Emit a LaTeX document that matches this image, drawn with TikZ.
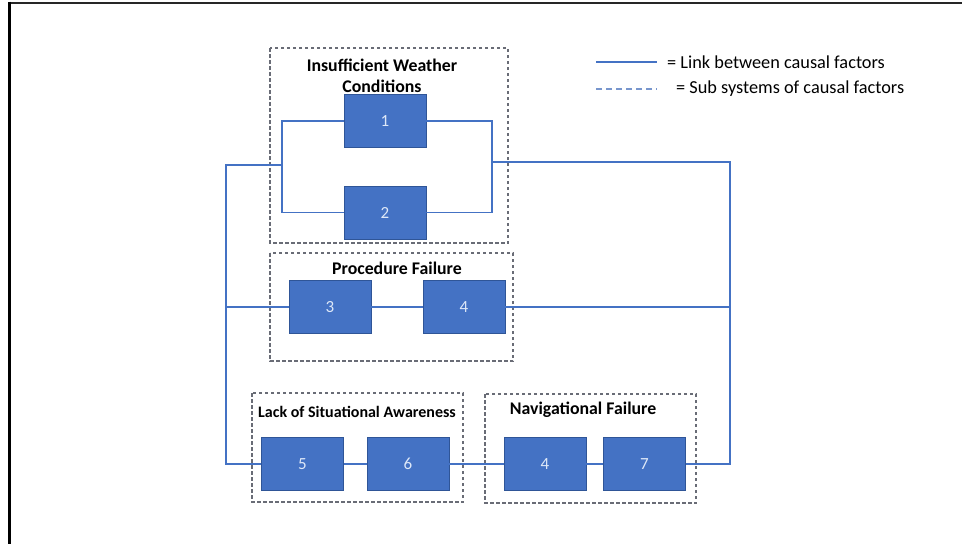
\documentclass[tikz,border=0pt]{standalone}
\usepackage{fontspec}
\setmainfont{Carlito}
\definecolor{boxblue}{RGB}{68,114,196}
\definecolor{boxedge}{RGB}{47,85,151}
\definecolor{numcol}{RGB}{222,232,248}
\definecolor{dashgray}{RGB}{105,108,118}
\definecolor{legdash}{RGB}{120,150,205}
\begin{document}
\begin{tikzpicture}[x=1pt,y=-1pt,
  factor/.style={rectangle,draw=boxedge,line width=0.6pt,fill=boxblue,inner sep=0pt,
    minimum width=82pt,minimum height=53pt,text=numcol,font=\fontsize{17}{19}\selectfont},
  subsys/.style={draw=dashgray,line width=1.1pt,dash pattern=on 3.5pt off 2.5pt},
  link/.style={draw=boxblue,line width=1.6pt},
  ttl/.style={font=\bfseries\fontsize{17.8}{21}\selectfont,inner sep=0pt,align=center},
  legtxt/.style={font=\fontsize{18.3}{21}\selectfont,inner sep=0pt,anchor=west}]
\useasboundingbox (0,0) rectangle (962,544);
% frame
\draw[line width=2pt,black!85] (8,2.5) -- (962,2.5);
\draw[line width=3pt,black] (9.5,1.5) -- (9.5,544);
% subsystem boxes
\draw[subsys] (270,48) rectangle (508,243);
\draw[subsys] (270,253) rectangle (513,361);
\draw[subsys] (252,393) rectangle (463,502);
\draw[subsys] (485,394) rectangle (696,503);
% titles
\node[ttl] (t1) at (382,76) {Insufficient Weather\\Conditions};
\node[ttl] (t2) at (397,268) {Procedure Failure};
\node[ttl,font=\bfseries\fontsize{16}{19}\selectfont] (t3) at (357,412) {Lack of Situational Awareness};
\node[ttl] (t4) at (583,410) {Navigational Failure};
% factor boxes
\node[factor] (b1) at (385,121) {1};
\node[factor] (b2) at (385,212.5) {2};
\node[factor] (b3) at (330,307) {3};
\node[factor] (b4) at (464,307) {4};
\node[factor] (b5) at (302.5,464) {5};
\node[factor] (b6) at (408,464) {6};
\node[factor] (b4b) at (545,464) {4};
\node[factor] (b7) at (644.5,464) {7};
% junction coordinates
\coordinate (jl) at (282,165);
\coordinate (jr) at (492,162);
\coordinate (L1) at (226,165);
\coordinate (L2) at (226,307);
\coordinate (L3) at (226,464);
\coordinate (R1) at (730,162);
\coordinate (R2) at (730,307);
\coordinate (R3) at (730,464);
% links
\draw[link] (b1.west) -| (jl) |- (b2.west);
\draw[link] (b1.east) -| (jr) |- (b2.east);
\draw[link] (jl) -- (L1) -- (L3) -- (b5.west);
\draw[link] (jr) -- (R1) -- (R3) -- (b7.east);
\draw[link] (L2) -- (b3.west);
\draw[link] (b3.east) -- (b4.west);
\draw[link] (b4.east) -- (R2);
\draw[link] (b5.east) -- (b6.west);
\draw[link] (b6.east) -- (b4b.west);
\draw[link] (b4b.east) -- (b7.west);
% legend
\coordinate (la1) at (596,62);
\coordinate (la2) at (657,62);
\coordinate (lb1) at (596,89);
\coordinate (lb2) at (657,89);
\draw[draw=boxblue,line width=1.3pt] (la1) -- (la2);
\draw[draw=legdash,line width=1.3pt,dash pattern=on 6pt off 4pt] (lb1) -- (lb2);
\node[legtxt] (lt1) at (667,62) {= Link between causal factors};
\node[legtxt] (lt2) at (676,89) {= Sub systems of causal factors};
\end{tikzpicture}
\end{document}
